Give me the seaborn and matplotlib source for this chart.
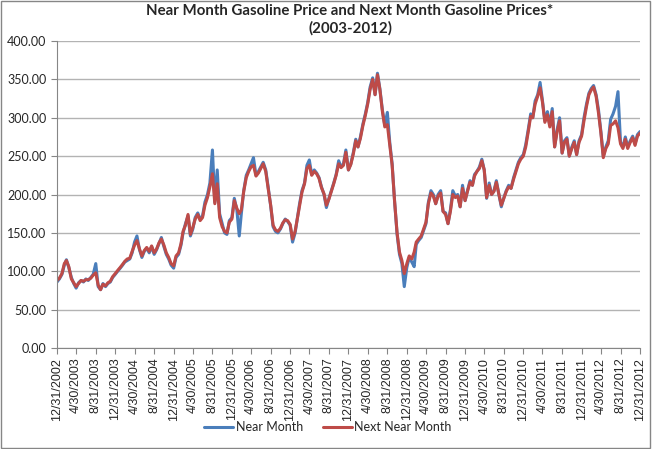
import pandas as pd
import matplotlib
matplotlib.use("Agg")
import matplotlib.pyplot as plt
import matplotlib.ticker as mticker
from matplotlib.patches import Rectangle
import seaborn as sns

# Semi-monthly readings (month end / 15th), 12/31/2002 .. 12/31/2012
near_month = [86,
    90, 96, 108, 115, 105, 92, 84, 78, 85, 88, 86, 90, 88, 92, 96, 110, 80, 76, 84, 80, 84, 86, 92, 96,
    100, 104, 108, 112, 114, 116, 124, 138, 146, 128, 118, 126, 130, 124, 132, 122, 128, 136, 144, 132, 122, 116, 108, 104,
    118, 122, 134, 150, 162, 172, 146, 155, 170, 176, 168, 172, 190, 200, 215, 258, 190, 232, 175, 162, 150, 148, 166, 170,
    195, 180, 146, 175, 205, 225, 232, 240, 248, 225, 230, 236, 242, 232, 210, 185, 158, 152, 150, 155, 162, 168, 165, 160,
    138, 150, 170, 188, 205, 215, 238, 245, 226, 232, 228, 222, 210, 200, 183, 195, 205, 215, 226, 244, 236, 240, 258, 232,
    240, 255, 272, 262, 275, 292, 305, 320, 340, 352, 330, 358, 338, 310, 290, 307, 268, 240, 192, 148, 122, 110, 80, 105,
    118, 112, 106, 135, 140, 144, 153, 162, 190, 205, 200, 188, 200, 205, 178, 176, 162, 180, 205, 198, 200, 184, 212, 192,
    205, 218, 212, 226, 230, 236, 246, 232, 195, 215, 200, 205, 218, 200, 184, 196, 205, 212, 208, 222, 232, 242, 248, 252,
    265, 285, 305, 300, 322, 330, 346, 322, 296, 308, 290, 312, 262, 285, 300, 254, 270, 274, 250, 262, 270, 252, 270, 278,
    300, 318, 332, 338, 342, 330, 310, 282, 250, 262, 270, 298, 305, 315, 334, 268, 262, 275, 262, 270, 276, 266, 278, 282]

next_near_month = [88,
    91, 97, 110, 114, 106, 90, 85, 80, 84, 88, 87, 89, 89, 91, 95, 98, 82, 76, 83, 81, 85, 87, 93, 97,
    101, 105, 109, 113, 116, 117, 126, 134, 140, 129, 120, 127, 131, 126, 133, 124, 129, 137, 142, 134, 124, 118, 110, 107,
    120, 124, 136, 152, 160, 174, 148, 157, 168, 174, 166, 170, 186, 196, 210, 227, 188, 214, 170, 158, 152, 150, 164, 168,
    192, 182, 175, 180, 204, 222, 230, 236, 238, 224, 228, 234, 240, 230, 208, 186, 160, 154, 152, 156, 163, 167, 166, 161,
    142, 152, 170, 186, 203, 214, 234, 238, 225, 230, 227, 221, 209, 201, 186, 194, 204, 214, 225, 240, 235, 238, 255, 232,
    239, 253, 270, 262, 273, 290, 303, 318, 337, 350, 330, 356, 337, 308, 288, 291, 265, 238, 192, 150, 125, 114, 97, 110,
    120, 116, 125, 138, 142, 146, 155, 164, 188, 202, 198, 188, 198, 202, 178, 174, 162, 178, 200, 196, 198, 184, 208, 192,
    204, 216, 212, 224, 230, 234, 244, 232, 196, 212, 200, 204, 216, 200, 186, 195, 204, 210, 208, 220, 230, 240, 246, 250,
    262, 282, 302, 300, 318, 328, 339, 320, 294, 304, 288, 308, 262, 282, 296, 254, 268, 272, 250, 260, 268, 252, 268, 276,
    296, 315, 330, 336, 340, 328, 306, 280, 248, 260, 266, 290, 292, 296, 287, 266, 260, 272, 260, 268, 274, 264, 276, 280]

dates = pd.date_range("2002-12-31", periods=len(near_month), freq=pd.offsets.SemiMonthEnd())
tick_dates = pd.date_range("2002-12-31", "2012-12-31", freq=pd.offsets.MonthEnd(4))
tick_labels = [f"{d.month}/{d.day}/{d.year}" for d in tick_dates]

df = pd.DataFrame({"date": dates, "Near Month": near_month, "Next Near Month": next_near_month})

sns.set_style("white")
plt.rcParams["font.family"] = ["Lato", "DejaVu Sans"]

fig = plt.figure(figsize=(6.52, 4.49), dpi=100)
ax = fig.add_axes([0.0874, 0.2249, 0.8942, 0.6838])

sns.lineplot(data=df, x="date", y="Near Month", color="#4a7ebb", linewidth=2.2, ax=ax, label="Near Month")
sns.lineplot(data=df, x="date", y="Next Near Month", color="#be4b48", linewidth=2.2, ax=ax, label="Next Near Month")

ax.set_ylim(0, 400)
ax.set_xlim(tick_dates[0], tick_dates[-1])
ax.yaxis.set_major_locator(mticker.MultipleLocator(50))
ax.yaxis.set_major_formatter(mticker.FormatStrFormatter("%.2f"))
ax.set_xticks(tick_dates)
ax.set_xticklabels(tick_labels, rotation=90, fontsize=9, family="Liberation Sans")
ax.tick_params(axis="y", labelsize=9, length=4, color="#868686", direction="out", left=True)
ax.tick_params(axis="x", length=4, color="#868686", direction="out", bottom=True, pad=3)
ax.grid(axis="y", color="#b3b3b3", linewidth=1)
ax.set_axisbelow(True)
for s in ["top", "right"]:
    ax.spines[s].set_visible(False)
for s in ["left", "bottom"]:
    ax.spines[s].set_color("#868686")
ax.set_xlabel("")
ax.set_ylabel("")

fig.text(0.537, 0.99, "Near Month Gasoline Price and Next Month Gasoline Prices*\n(2003-2012)",
         ha="center", va="top", fontsize=10.8, fontweight="bold", linespacing=1.2)

ax.legend_.remove()
handles, labels = ax.get_legend_handles_labels()
fig.legend(handles, labels, loc="center", bbox_to_anchor=(0.503, 0.048), ncol=2, frameon=False,
           fontsize=9, handlelength=2.3, columnspacing=1.6, handletextpad=0.2)

fig.patches.append(Rectangle((0.002, 0.003), 0.995, 0.994, transform=fig.transFigure,
                             fill=False, edgecolor="#868686", linewidth=1))

fig.savefig("out.png", dpi=100)
